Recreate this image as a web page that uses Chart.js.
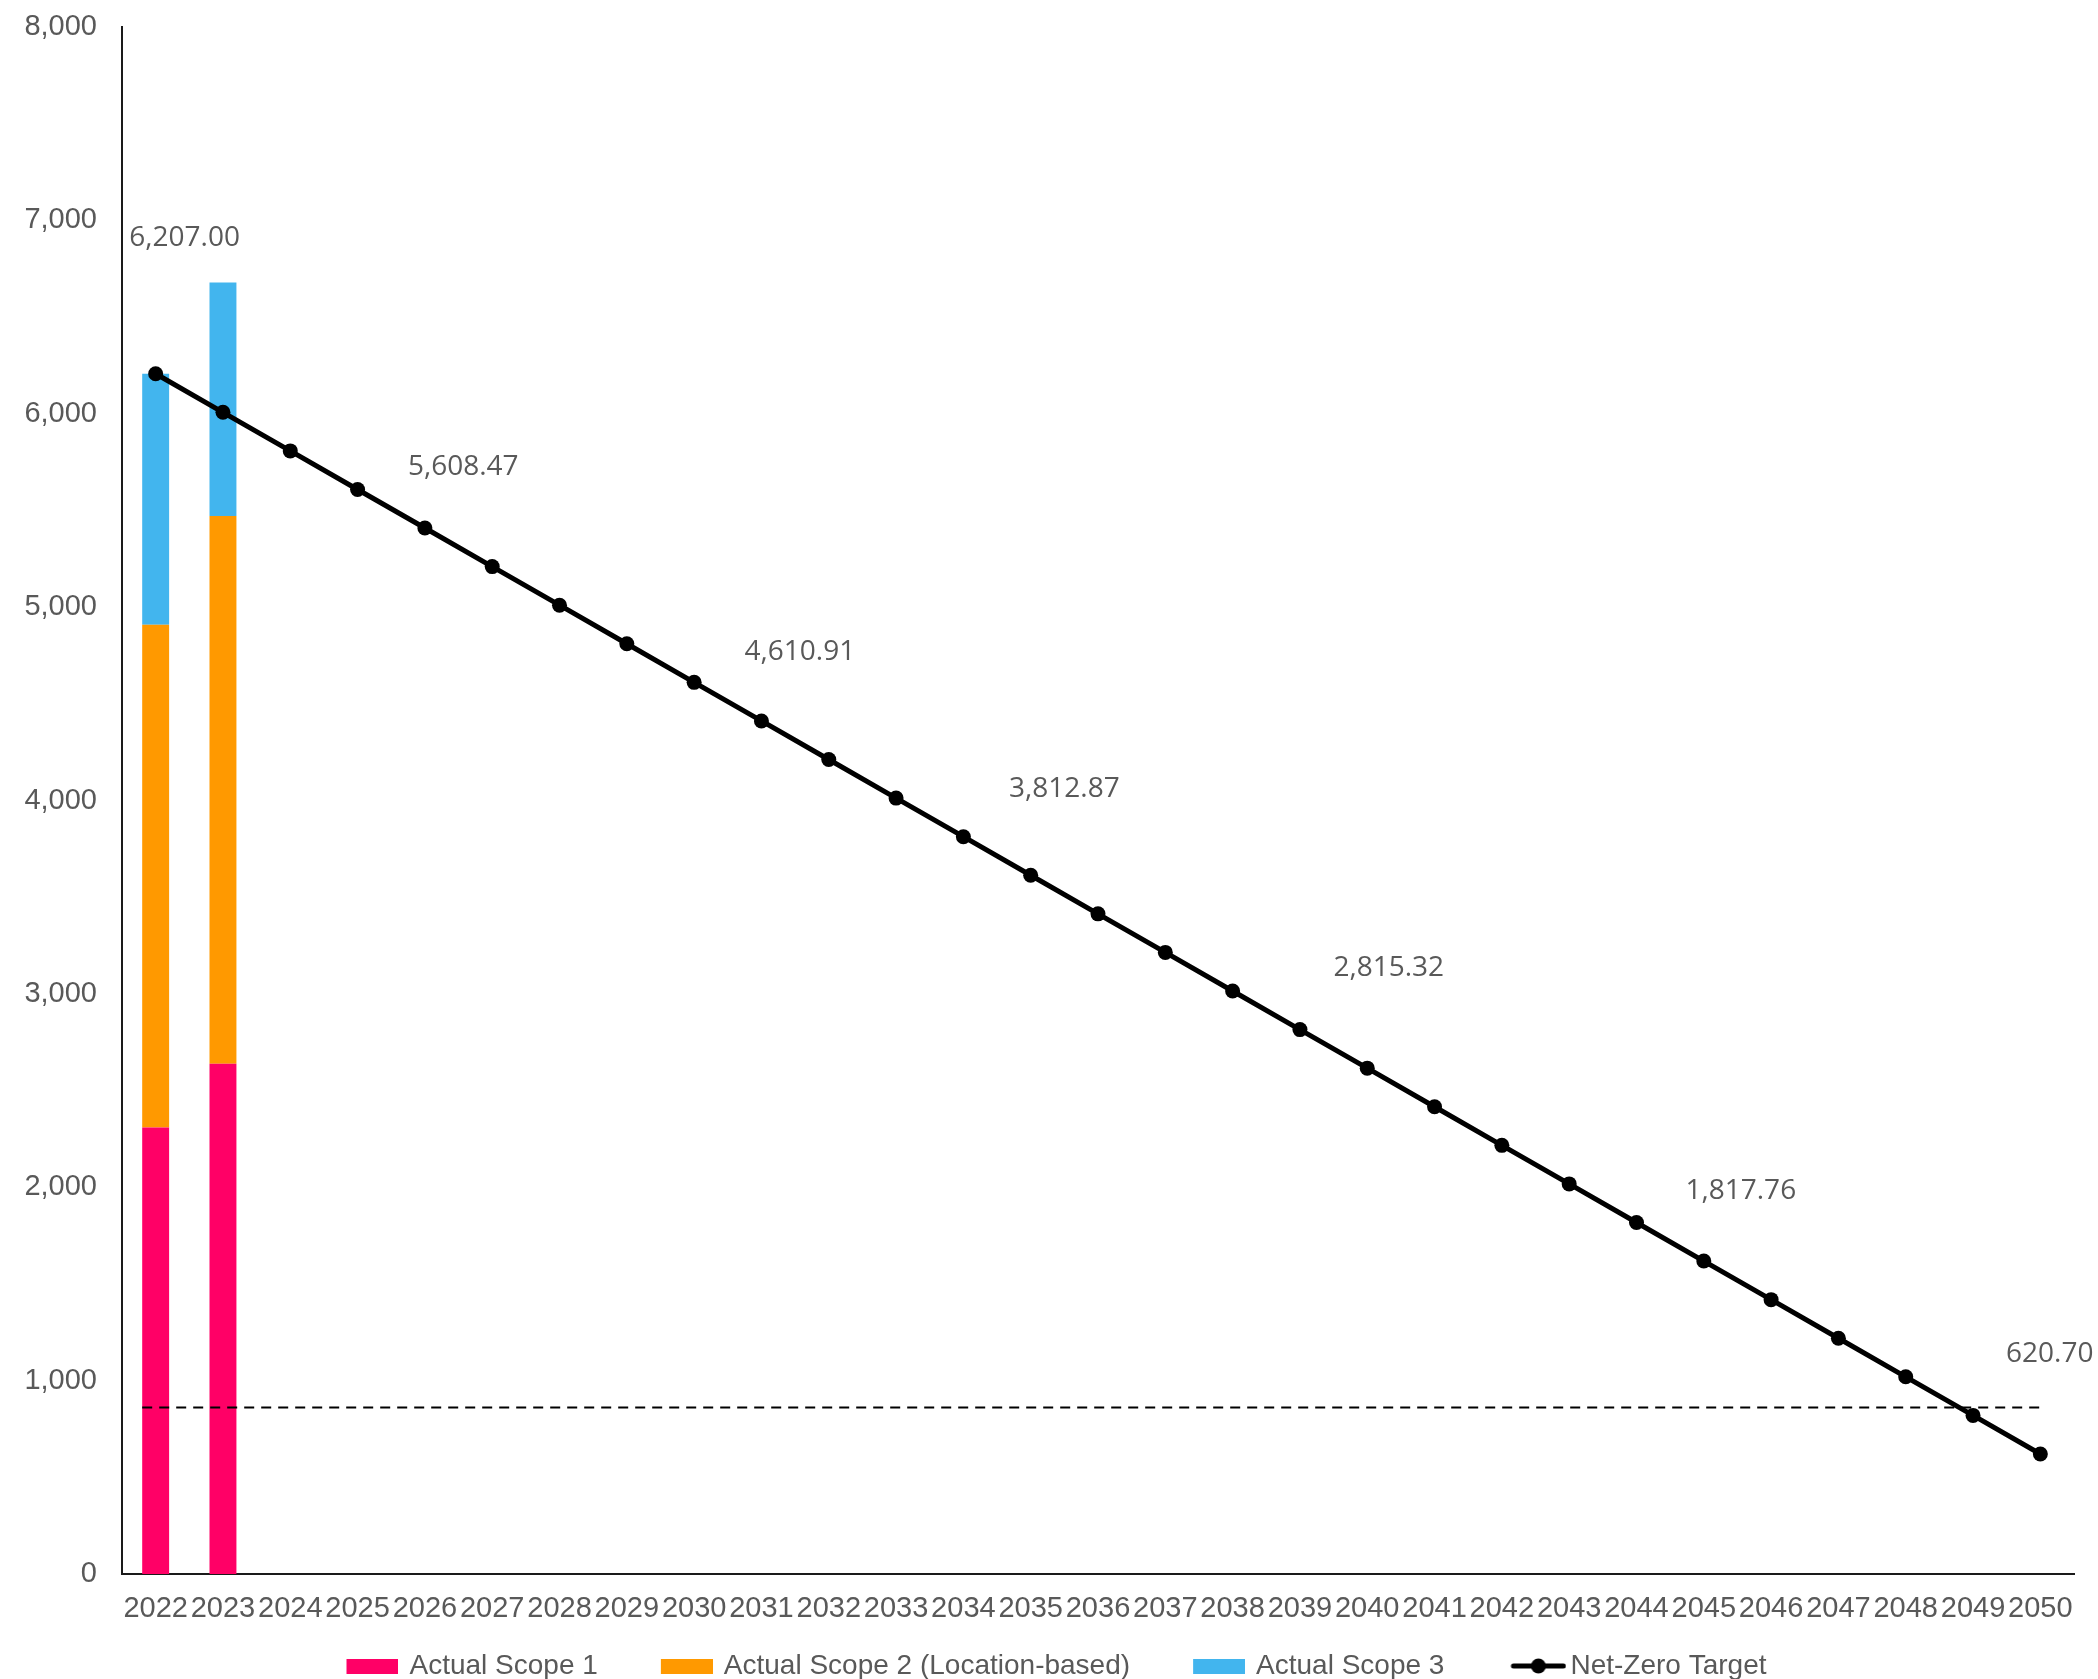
<!DOCTYPE html>
<html>
<head>
<meta charset="utf-8">
<script src="https://cdn.jsdelivr.net/npm/chart.js@4/dist/chart.umd.min.js"></script>
<style>
  html, body { margin: 0; padding: 0; background: #ffffff; }
  #wrap { width: 2098px; height: 1679px; position: relative; }
</style>
</head>
<body>
<div id="wrap"><canvas id="c" width="2098" height="1679"></canvas></div>
<script>
// ---------- data ----------
const years = ['2022','2023','2024','2025','2026','2027','2028','2029','2030','2031','2032','2033','2034','2035','2036','2037','2038','2039','2040','2041','2042','2043','2044','2045','2046','2047','2048','2049','2050'];
const scope1 = [2309, 2639];
const scope2 = [2600, 2832];
const scope3 = [1298, 1208];
const netZeroTarget = [6207.00, 6007.49, 5807.98, 5608.47, 5408.96, 5209.45, 5009.94, 4810.43, 4610.91, 4411.40, 4211.89, 4012.38, 3812.87, 3613.36, 3413.85, 3214.34, 3014.83, 2815.32, 2615.81, 2416.30, 2216.79, 2017.27, 1817.76, 1618.25, 1418.74, 1219.23, 1019.72, 820.21, 620.70];
const thresholdValue = 865;            // dashed reference line
const labelledPoints = [0, 3, 8, 12, 17, 22, 28];   // indices of target values shown as labels
const yTicks = [0, 1000, 2000, 3000, 4000, 5000, 6000, 7000, 8000];

// ---------- label placement (category units / axis units) ----------
const labelAnchorX = [0.43, 4.57, 9.57, 13.50, 18.32, 23.55, 28.14];
const labelAnchorY = [6909, 5727, 4768, 4058, 3136, 1980, 1140];

const pad = (arr) => years.map((_, i) => (i < arr.length ? arr[i] : null));

const TEXT = '#595959';
const C1 = '#FF0066', C2 = '#FF9900', C3 = '#42B5EE';

// legend geometry
const LEAD = 42;                 // extra leading space in each legend item
const BOXW = 46 + LEAD;          // pointStyleWidth

function rectSwatch(color) {
  const cv = document.createElement('canvas');
  const W = BOXW + 6;
  cv.width = W; cv.height = 15;
  const g = cv.getContext('2d');
  g.fillStyle = color; g.fillRect(W - 52, 0, 52, 15);
  return cv;
}
function lineSwatch() {
  const cv = document.createElement('canvas');
  const W = BOXW + 20;
  cv.width = W; cv.height = 16;
  const g = cv.getContext('2d');
  const x0 = W - 56;
  g.strokeStyle = '#000'; g.lineWidth = 5; g.lineCap = 'round';
  g.beginPath(); g.moveTo(x0 + 3, 8); g.lineTo(x0 + 53, 8); g.stroke();
  g.fillStyle = '#000'; g.beginPath(); g.arc(x0 + 28, 8, 7.5, 0, Math.PI * 2); g.fill();
  return cv;
}
const swatches = [rectSwatch(C1), rectSwatch(C2), rectSwatch(C3), lineSwatch()];

const annotate = {
  id: 'annotate',
  afterDatasetsDraw(chart) {
    const { ctx, scales: { x, y } } = chart;
    ctx.save();
    // dashed threshold
    ctx.strokeStyle = '#000';
    ctx.lineWidth = 2;
    ctx.setLineDash([10, 7]);
    const yy = Math.round(y.getPixelForValue(thresholdValue)) + 0.5;
    ctx.beginPath();
    ctx.moveTo(x.getPixelForValue(-0.2), yy);
    ctx.lineTo(x.getPixelForValue(28.03), yy);
    ctx.stroke();
    ctx.setLineDash([]);
    // value labels
    ctx.fillStyle = TEXT;
    ctx.font = '28px "Open Sans"';
    ctx.textAlign = 'center';
    ctx.textBaseline = 'middle';
    labelledPoints.forEach((idx, k) => {
      const v = netZeroTarget[idx];
      const txt = v.toLocaleString('en-US', { minimumFractionDigits: 2, maximumFractionDigits: 2 });
      ctx.fillText(txt, x.getPixelForValue(labelAnchorX[k]), y.getPixelForValue(labelAnchorY[k]));
    });
    ctx.restore();
  }
};

new Chart(document.getElementById('c'), {
  type: 'bar',
  data: {
    labels: years,
    datasets: [
      { type: 'bar', label: 'Actual Scope 1', data: pad(scope1), backgroundColor: C1, order: 1, stack: 's' },
      { type: 'bar', label: 'Actual Scope 2 (Location-based)', data: pad(scope2), backgroundColor: C2, order: 2, stack: 's' },
      { type: 'bar', label: 'Actual Scope 3', data: pad(scope3), backgroundColor: C3, order: 3, stack: 's' },
      { type: 'line', label: 'Net-Zero Target', data: netZeroTarget, borderColor: '#000', backgroundColor: '#000',
        borderWidth: 5, pointRadius: 7.5, pointHoverRadius: 7.5, pointBackgroundColor: '#000', pointBorderWidth: 0,
        tension: 0, order: 0, stack: 'target' }
    ]
  },
  options: {
    responsive: false,
    animation: false,
    devicePixelRatio: 1,
    layout: { padding: { top: 27, right: 24, left: 0, bottom: -11 } },
    datasets: { bar: { barPercentage: 0.4, categoryPercentage: 1.0 } },
    scales: {
      x: {
        stacked: true,
        offset: true,
        grid: { display: false, drawTicks: false },
        border: { display: true, color: '#1a1a1a', width: 2 },
        ticks: { color: TEXT, font: { family: '"Liberation Sans"', size: 29 }, padding: 18, maxRotation: 0, autoSkip: false },
        afterFit(s) { s.height = 54; }
      },
      y: {
        stacked: true,
        min: 0, max: 8000,
        afterBuildTicks(s) { s.ticks = yTicks.map(v => ({ value: v })); },
        grid: { display: false, drawTicks: false },
        border: { display: true, color: '#1a1a1a', width: 2 },
        ticks: { color: TEXT, font: { family: '"Liberation Sans"', size: 29 }, padding: 25,
                 callback: (v) => Number(v).toLocaleString('en-US') },
        afterFit(s) { s.width = 122; s.paddingTop = 0; s.paddingBottom = 0; }
      }
    },
    plugins: {
      tooltip: { enabled: false },
      legend: {
        position: 'bottom',
        labels: {
          usePointStyle: true,
          pointStyleWidth: BOXW,
          padding: 24,
          color: TEXT,
          font: { family: '"Liberation Sans"', size: 28 },
          sort: (a, b) => a.datasetIndex - b.datasetIndex,
          generateLabels(chart) {
            const items = Chart.defaults.plugins.legend.labels.generateLabels(chart);
            items.forEach(it => { it.pointStyle = swatches[it.datasetIndex]; it.lineWidth = 0; });
            return items;
          }
        }
      }
    }
  },
  plugins: [annotate]
});
</script>
</body>
</html>
